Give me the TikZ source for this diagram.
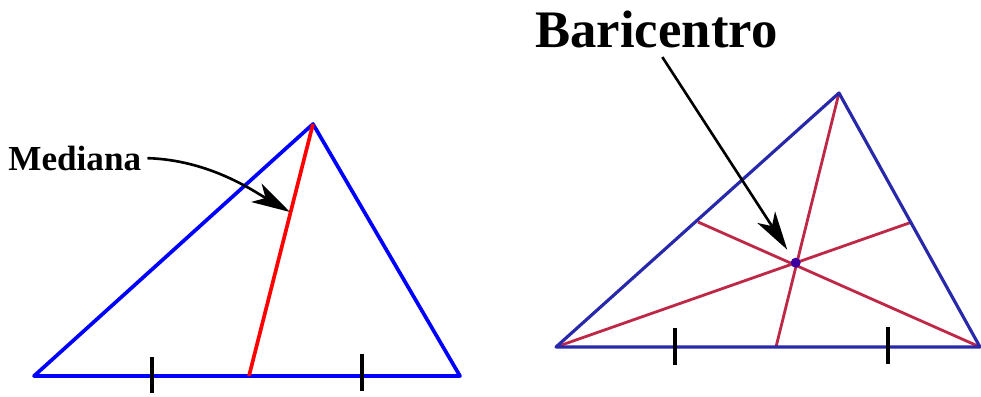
\documentclass[tikz,border=0pt]{standalone}
\usepackage{fontspec}
\setmainfont{Liberation Serif}
\usetikzlibrary{arrows.meta}

\definecolor{azul}{RGB}{0,0,255}
\definecolor{azulosc}{RGB}{40,40,170}
\definecolor{rojo}{RGB}{255,0,0}
\definecolor{rojoosc}{RGB}{190,40,70}
\definecolor{punto}{RGB}{60,0,160}

\tikzset{
  flecha/.style={line width=1.5pt,-{Stealth[length=22pt,width=12pt,inset=6pt]}},
  marca/.style={line width=1.8pt},
  etiqueta/.style={inner sep=0pt,font=\bfseries}
}

\begin{document}
\begin{tikzpicture}[x=0.02cm,y=-0.02cm]
    \useasboundingbox (0,0) rectangle (981,396);

    % triangulo de la izquierda
    \coordinate (A) at (34,376);
    \coordinate (B) at (460,376);
    \coordinate (C) at (313,124);
    \coordinate (M) at (249,376);
    \draw[azul,line width=2.1pt,line join=round] (A) -- (B) -- (C) -- cycle;
    \draw[rojo,line width=2.1pt] (C) -- (M);

    % marcas de la base
    \draw[marca] (152,357) -- (152,393);
    \draw[marca] (362,354) -- (362,391);

    % mediana
    \node[etiqueta,font=\bfseries\fontsize{20}{24}\selectfont,anchor=base west] (mediana) at (8,170) {Mediana};
    \coordinate (pm) at (290,212);
    \draw[flecha,shorten <=0.12cm] (mediana.east) .. controls (210,160) and (255,192) .. (pm);

    % triangulo de la derecha
    \coordinate (P) at (556,347);
    \coordinate (Q) at (980,347);
    \coordinate (R) at (839,93);
    \coordinate (MPQ) at (776,347);
    \coordinate (MQR) at (912,222);
    \coordinate (MPR) at (698,222);
    \coordinate (G) at (795.7,262.7);
    \draw[rojoosc,line width=1.6pt] (R) -- (MPQ);
    \draw[rojoosc,line width=1.6pt] (P) -- (MQR);
    \draw[rojoosc,line width=1.6pt] (Q) -- (MPR);
    \draw[azulosc,line width=1.8pt,line join=round] (P) -- (Q) -- (R) -- cycle;
    \fill[punto] (G) circle (5);

    % marcas de la base
    \draw[marca] (675,328) -- (675,365);
    \draw[marca] (888,327) -- (888,364);

    % baricentro
    \node[etiqueta,font=\bfseries\fontsize{30}{36}\selectfont,anchor=base west] (baricentro) at (535,47) {Baricentro};
    \draw[flecha,shorten <=0.22cm,shorten >=0.31cm] (baricentro.south) -- (G);
\end{tikzpicture}
\end{document}
